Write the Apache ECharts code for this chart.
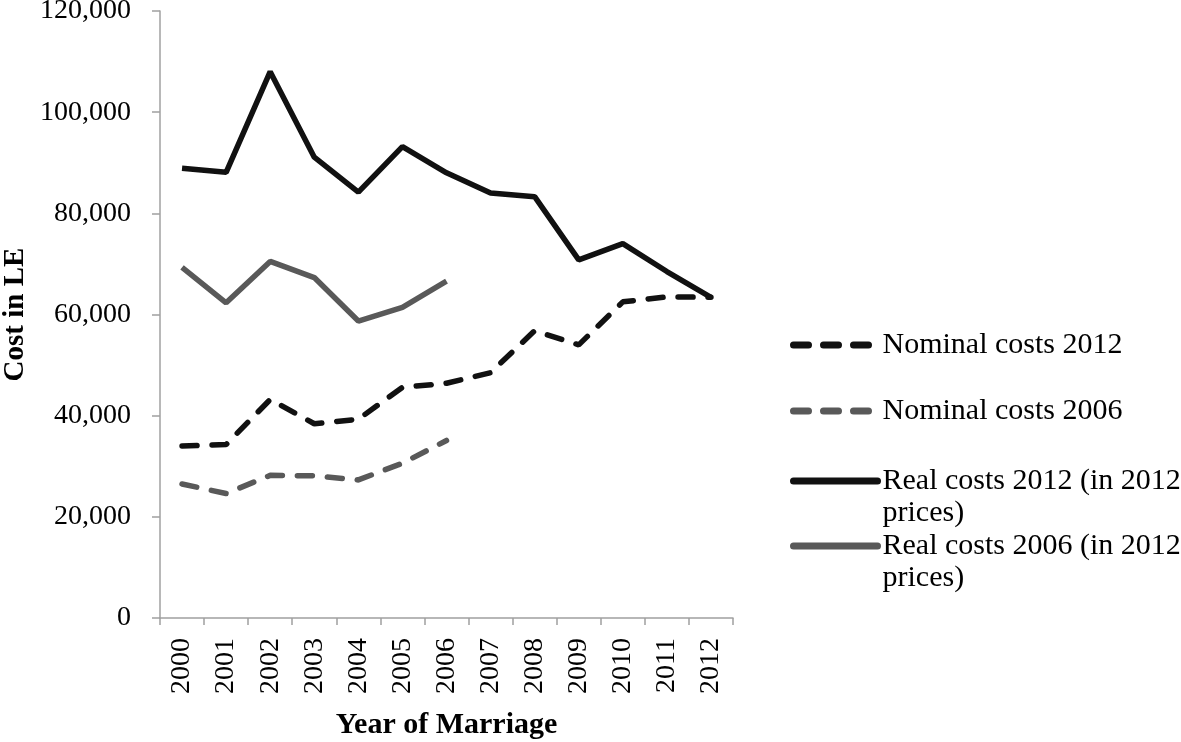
<!DOCTYPE html>
<html>
<head>
<meta charset="utf-8">
<script src="https://cdn.jsdelivr.net/npm/echarts@6/dist/echarts.min.js"></script>
<style>html,body{margin:0;padding:0;background:#fff}#c{width:1181px;height:742px}</style>
</head>
<body>
<div id="c"></div>
<script>
const years = ['2000','2001','2002','2003','2004','2005','2006','2007','2008','2009','2010','2011','2012'];
const nominal2012 = [34000, 34300, 43200, 38400, 39300, 45600, 46400, 48500, 56800, 54000, 62500, 63500, 63400];
const nominal2006 = [26500, 24600, 28200, 28100, 27300, 30600, 35100];
const real2012 = [88900, 88100, 108000, 91100, 84200, 93200, 88000, 84000, 83300, 70800, 74000, 68500, 63400];
const real2006 = [69300, 62300, 70500, 67300, 58700, 61400, 66600];
const yTicks = [0, 20000, 40000, 60000, 80000, 100000, 120000];

const names = ['Nominal costs 2012', 'Nominal costs 2006', 'Real costs 2012 (in 2012 prices)', 'Real costs 2006 (in 2012 prices)'];
const legendText = {
  'Nominal costs 2012': 'Nominal costs 2012',
  'Nominal costs 2006': 'Nominal costs 2006',
  'Real costs 2012 (in 2012 prices)': '\nReal costs 2012 (in 2012\nprices)',
  'Real costs 2006 (in 2012 prices)': '\nReal costs 2006 (in 2012\nprices)'
};
const BLACK = '#111111', GRAY = '#595959';
const FONT = 'Liberation Serif';
const dash = [15, 15];
const LH = 32;

function fmt(v){ return v.toLocaleString('en-US'); }

function lg(name, center, dashed, multi){
  const h = multi ? LH * 3 : LH;
  return {
    data: [name], left: 790, top: center - h / 2, padding: 0,
    itemWidth: 84, itemHeight: 14, itemGap: 0,
    formatter: n => legendText[n],
    lineStyle: {width: 7, type: dashed ? dash : 'solid', cap: 'round'},
    itemStyle: {color: 'rgba(0,0,0,0)', borderWidth: 0, opacity: 0},
    textStyle: {fontFamily: FONT, fontSize: 30, color: '#000', lineHeight: LH},
    selectedMode: false
  };
}

const option = {
  animation: false,
  backgroundColor: '#fff',
  grid: {left: 160, right: 448, top: 11, bottom: 124, containLabel: false, outerBoundsMode: 'none'},
  legend: [
    lg(names[0], 345, true, false),
    lg(names[1], 411, true, false),
    lg(names[2], 481, false, true),
    lg(names[3], 546, false, true)
  ],
  xAxis: {
    type: 'category', data: years, boundaryGap: true,
    name: 'Year of Marriage', nameLocation: 'middle', nameGap: 92,
    nameTextStyle: {fontFamily: FONT, fontSize: 30, fontWeight: 'bold', color: '#000'},
    axisLine: {lineStyle: {color: '#a0a0a0', width: 1.5}},
    axisTick: {show: true, length: 7, lineStyle: {color: '#a0a0a0', width: 1.5}},
    axisLabel: {rotate: 90, margin: 20, fontFamily: FONT, fontSize: 28, color: '#000'},
    splitLine: {show: false}
  },
  yAxis: {
    type: 'value', min: 0, max: 120000, interval: 20000,
    name: 'Cost in LE', nameLocation: 'middle', nameGap: 130, nameRotate: 90,
    nameTextStyle: {fontFamily: FONT, fontSize: 29, fontWeight: 'bold', color: '#000'},
    axisLine: {show: true, lineStyle: {color: '#a0a0a0', width: 1.5}},
    axisTick: {show: true, length: 8, lineStyle: {color: '#a0a0a0', width: 1.5}},
    axisLabel: {margin: 29, fontFamily: FONT, fontSize: 28, color: '#000', formatter: v => fmt(v)},
    splitLine: {show: false}
  },
  series: [
    {name: names[2], type: 'line', data: real2012, symbol: 'none', lineStyle: {color: BLACK, width: 5.5}, itemStyle: {color: BLACK}},
    {name: names[3], type: 'line', data: real2006, symbol: 'none', lineStyle: {color: GRAY, width: 5.5}, itemStyle: {color: GRAY}},
    {name: names[0], type: 'line', data: nominal2012, symbol: 'none', lineStyle: {color: BLACK, width: 5.5, type: dash, cap: 'round'}, itemStyle: {color: BLACK}},
    {name: names[1], type: 'line', data: nominal2006, symbol: 'none', lineStyle: {color: GRAY, width: 5.5, type: dash, cap: 'round'}, itemStyle: {color: GRAY}}
  ]
};
const chart = echarts.init(document.getElementById('c'), null, {renderer: 'canvas'});
chart.setOption(option);
</script>
</body>
</html>
